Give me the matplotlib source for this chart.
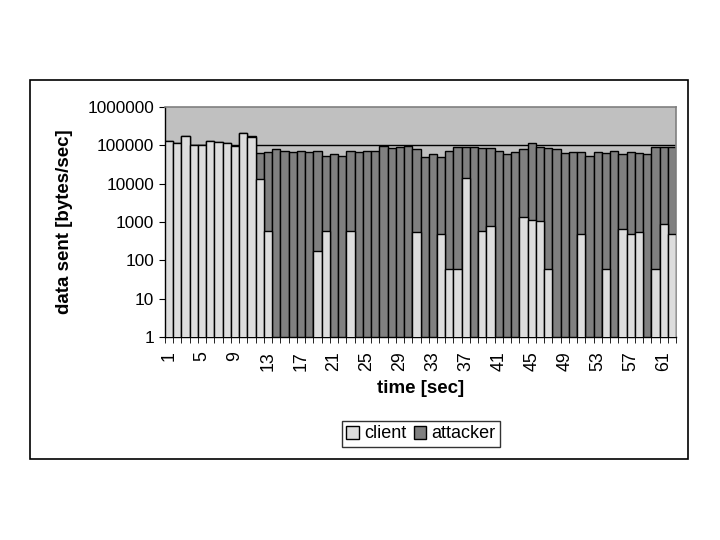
import numpy as np
import matplotlib
matplotlib.use("Agg")
import matplotlib.pyplot as plt
from matplotlib.patches import Rectangle
from matplotlib.ticker import FixedLocator, NullFormatter

plt.rcParams["font.family"] = ["Liberation Sans", "DejaVu Sans"]

# time [sec], 1..62
seconds = list(range(1, 63))

# data sent by the client [bytes/sec]
client = [128000, 113000, 172000, 100000, 100000, 128000, 120000, 113000, 94000, 206000,
          162000, 13000, 570, 0, 0, 0, 0, 0, 172, 570,
          0, 0, 570, 0, 0, 0, 0, 0, 0, 0,
          540, 0, 0, 480, 58, 58, 13800, 0, 570, 770,
          0, 0, 0, 1330, 1100, 1040, 58, 0, 0, 0,
          480, 0, 0, 58, 0, 645, 480, 540, 0, 58,
          870, 480]

# data sent by the attacker [bytes/sec]
attacker = [0, 0, 0, 0, 0, 0, 0, 0, 0, 0,
            10000, 49000, 65400, 79000, 70000, 66000, 70000, 66000, 69800, 51400,
            58000, 52000, 69400, 66000, 70000, 70000, 95000, 84000, 89000, 95000,
            78500, 49000, 58000, 48500, 69900, 88900, 75200, 89000, 83400, 83200,
            70000, 58000, 66000, 77700, 111900, 88000, 83900, 79000, 62000, 66000,
            65500, 52000, 66000, 61900, 70000, 57400, 65500, 61500, 58000, 88900,
            88100, 88500]

yticks = [1, 10, 100, 1000, 10000, 100000, 1000000]
xlabels_every = 4

c_client = "#DDDDDD"
c_attacker = "#808080"

fig = plt.figure(figsize=(7.2, 5.4), dpi=100)
fig.patch.set_facecolor("white")

# outer chart frame
fig.patches.append(Rectangle((30 / 720, 1 - 459 / 540), 658 / 720, 379 / 540,
                             transform=fig.transFigure, fill=False,
                             edgecolor="black", linewidth=1.2))

ax = fig.add_axes([165 / 720, 1 - 337 / 540, 511 / 720, 230 / 540])
ax.set_facecolor("#C0C0C0")

x = np.array(seconds)
cl = np.array(client, dtype=float)
at = np.array(attacker, dtype=float)
total = cl + at

ax.bar(x, total, width=1.0, color=c_attacker, edgecolor="black", linewidth=1.0,
       label="attacker", zorder=2)
ax.bar(x, cl, width=1.0, color=c_client, edgecolor="black", linewidth=1.0,
       label="client", zorder=3)

ax.set_yscale("log")
ax.set_ylim(1, 1000000)
ax.set_xlim(0.5, 62.5)
ax.set_yticks(yticks)
ax.set_yticklabels([str(v) for v in yticks], fontsize=12.4)
ax.yaxis.set_minor_locator(FixedLocator([]))
for v in yticks[1:-1]:
    ax.axhline(v, color="black", linewidth=1.0, zorder=1)

ax.set_xticks(x[::xlabels_every])
ax.set_xticklabels([str(s) for s in seconds[::xlabels_every]], rotation=90, fontsize=12.8)
ax.tick_params(axis="x", which="major", length=0, pad=10)
ax.xaxis.set_minor_locator(FixedLocator(np.arange(0.5, 63, 1.0)))
ax.xaxis.set_minor_formatter(NullFormatter())
ax.tick_params(axis="x", which="minor", length=4, direction="out", color="black")
ax.tick_params(axis="y", which="major", length=4, direction="out", color="black", pad=4)

for side in ["top", "right"]:
    ax.spines[side].set_color("#808080")
    ax.spines[side].set_linewidth(1.2)
for side in ["left", "bottom"]:
    ax.spines[side].set_color("black")
    ax.spines[side].set_linewidth(1.0)

ax.set_xlabel("time [sec]", fontsize=13.5, fontweight="bold", labelpad=7)
ax.set_ylabel("data sent [bytes/sec]", fontsize=13.5, fontweight="bold", labelpad=10)

handles, labels = ax.get_legend_handles_labels()
leg = fig.legend(handles[::-1], labels[::-1], loc="center", ncol=2,
                 bbox_to_anchor=(421 / 720, 1 - 434 / 540), fontsize=13,
                 frameon=True, fancybox=False, handlelength=0.7, handleheight=0.7,
                 handletextpad=0.3, columnspacing=0.4, borderpad=0.25)
leg.get_frame().set_edgecolor("black")
leg.get_frame().set_linewidth(1.0)

fig.savefig("out.png", dpi=100)
